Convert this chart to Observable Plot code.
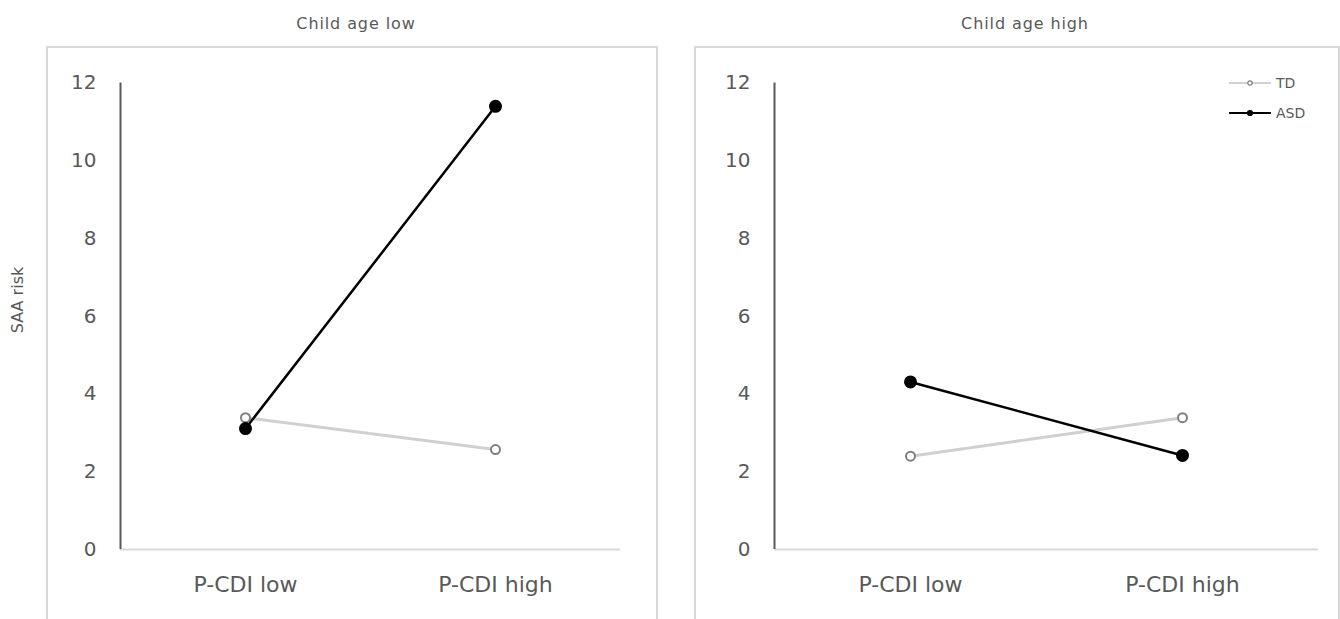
<!DOCTYPE html>
<html>
<head>
<meta charset="utf-8">
<script src="https://cdn.jsdelivr.net/npm/d3@7"></script>
<script src="https://cdn.jsdelivr.net/npm/@observablehq/plot@0.6"></script>
<style>
  html, body { margin: 0; padding: 0; background: #fff; }
  #page { position: relative; width: 1340px; height: 619px; overflow: hidden; font-family: "DejaVu Sans", sans-serif; color: #595959; }
  .box { position: absolute; border: 2.5px solid #d9d9d9; box-sizing: border-box; }
  .title { position: absolute; font-size: 16px; letter-spacing: 0.9px; transform: translate(-50%, -50%); white-space: nowrap; }
  .panel { position: absolute; top: 0; }
  #ylabel { position: absolute; left: 17px; top: 300px; font-size: 16px; transform: translate(-50%, -50%) rotate(-90deg); white-space: nowrap; }
  #legend { position: absolute; left: 1225px; top: 70px; }
</style>
</head>
<body>
<div id="page">
  <div class="box" style="left:46px; top:46px; width:612px; height:600px;"></div>
  <div class="box" style="left:694px; top:46px; width:646px; height:600px;"></div>
  <div class="title" style="left:356px; top:23px;">Child age low</div>
  <div class="title" style="left:1025px; top:23px;">Child age high</div>
  <div id="ylabel">SAA risk</div>
  <div id="left" class="panel" style="left:0px;"></div>
  <div id="right" class="panel" style="left:680px;"></div>
  <svg id="legend" width="110" height="60"></svg>
</div>
<script>
// Categories along the x axis
const categories = ["P-CDI low", "P-CDI high"];
// Groups
const groups = ["TD", "ASD"];
// Panel titles
const panels = ["Child age low", "Child age high"];
// SAA risk per group, one value per category
const tdLow = [3.39, 2.57];    // child age low
const asdLow = [3.11, 11.4];
const tdHigh = [2.40, 3.39];   // child age high
const asdHigh = [4.31, 2.42];
// y axis ticks
const yTicks = [0, 2, 4, 6, 8, 10, 12];

const font = "'DejaVu Sans', sans-serif";

const styles = {
  TD: {line: "#d0d0d0", lineWidth: 3, fill: "#ffffff", stroke: "#7f7f7f", r: 4.5},
  ASD: {line: "#000000", lineWidth: 2.5, fill: "#000000", stroke: "#000000", r: 5.5}
};

function rows(td, asd) {
  const out = [];
  categories.forEach((c, i) => out.push({group: "TD", cat: c, i, value: td[i]}));
  categories.forEach((c, i) => out.push({group: "ASD", cat: c, i, value: asd[i]}));
  return out;
}

function panel(data, opts) {
  const xDomain = [-0.5, categories.length - 0.5];
  const marks = [
    Plot.ruleY([0], {stroke: "#d9d9d9", strokeWidth: 2}),
    Plot.ruleX([xDomain[0]], {stroke: "#595959", strokeWidth: 2}),
    Plot.axisY({ticks: yTicks, tickSize: 0, tickPadding: 24, fontSize: 20, fill: "#595959"}),
    Plot.axisX({ticks: categories.map((c, i) => i), tickFormat: i => categories[i], tickSize: 0, tickPadding: 27, fontSize: 22, fill: "#595959"})
  ];
  for (const g of groups) {
    const s = styles[g];
    const d = data.filter(r => r.group === g);
    marks.push(Plot.line(d, {x: "i", y: "value", stroke: s.line, strokeWidth: s.lineWidth}));
  }
  for (const g of groups) {
    const s = styles[g];
    const d = data.filter(r => r.group === g);
    marks.push(Plot.dot(d, {x: "i", y: "value", r: s.r, fill: s.fill, stroke: s.stroke, strokeWidth: 2}));
  }
  return Plot.plot({
    width: 660,
    height: 619,
    marginLeft: opts.marginLeft,
    marginRight: opts.marginRight,
    marginTop: 82.5,
    marginBottom: 70,
    style: {fontFamily: font, background: "transparent", overflow: "visible"},
    x: {type: "linear", domain: xDomain, label: null},
    y: {domain: [0, 12], label: null},
    marks
  });
}

document.getElementById("left").append(panel(rows(tdLow, asdLow), {marginLeft: 120, marginRight: 40}));
document.getElementById("right").append(panel(rows(tdHigh, asdHigh), {marginLeft: 94, marginRight: 22}));

// Legend for the two groups
const legend = d3.select("#legend");
groups.forEach((g, k) => {
  const s = styles[g];
  const y = 13 + k * 30;
  legend.append("line").attr("x1", 4).attr("x2", 46).attr("y1", y).attr("y2", y)
    .attr("stroke", s.line).attr("stroke-width", g === "TD" ? 2 : 1.8);
  legend.append("circle").attr("cx", 25).attr("cy", y).attr("r", g === "TD" ? 2.2 : 2.5)
    .attr("fill", s.fill).attr("stroke", s.stroke).attr("stroke-width", 1.2);
  legend.append("text").attr("x", 51).attr("y", y).attr("dy", "0.35em")
    .attr("font-size", 14).attr("fill", "#595959").attr("font-family", font).text(g);
});
</script>
</body>
</html>
